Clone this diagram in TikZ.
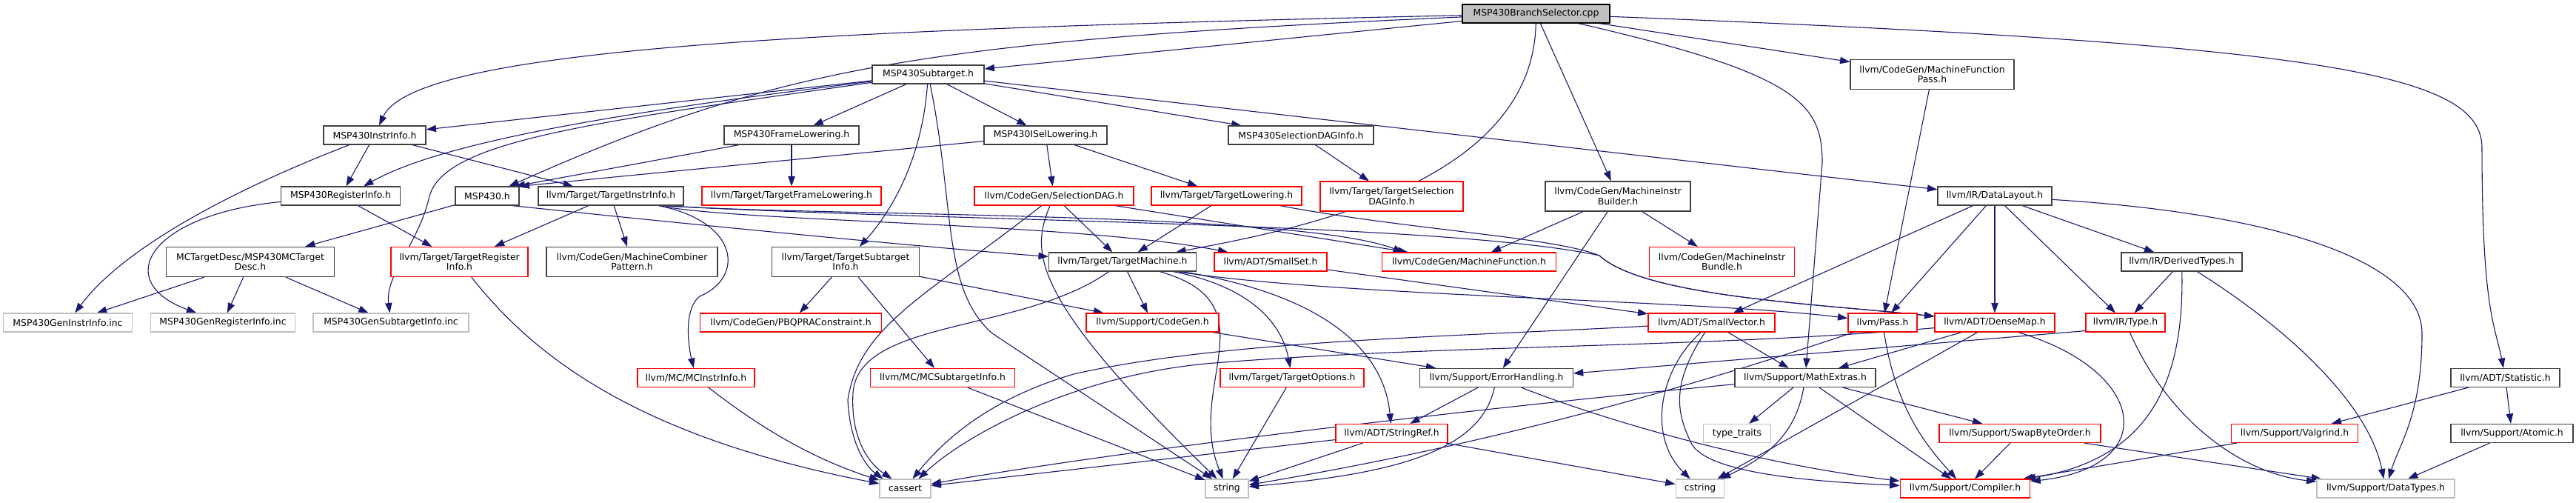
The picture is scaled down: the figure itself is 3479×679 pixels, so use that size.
\documentclass[tikz,border=0pt]{standalone}
\usepackage{fontspec}
\setmainfont{DejaVu Sans}
\usetikzlibrary{arrows.meta}
\pgfdeclarelayer{bglayer}
\pgfdeclarelayer{edgelayer}
\pgfsetlayers{bglayer,edgelayer,main}
\definecolor{edgeblue}{HTML}{191970}
\definecolor{grayline}{HTML}{BFBFBF}
\definecolor{redline}{HTML}{FF0000}
\definecolor{darkline}{HTML}{404040}
\definecolor{rootfill}{HTML}{BFBFBF}
\tikzset{
  nb/.style={draw=darkline, line width=0.6pt, fill=white, rectangle, inner sep=0pt, minimum height=12.5pt, align=center, font=\fontsize{6.2}{6.7}\selectfont},
  rb/.style={nb, draw=redline},
  gb/.style={nb, draw=grayline},
  rootb/.style={nb, draw=black, fill=rootfill},
  twol/.style={minimum height=20pt},
  dep/.style={draw=edgeblue, line width=0.55pt, -{Triangle[length=6.7pt,width=4.7pt]}},
}
\begin{document}
\begin{tikzpicture}[x=0.5pt,y=-0.5pt]
\begin{pgfonlayer}{bglayer}
\fill[white] (0,0) rectangle (3479,679);
\end{pgfonlayer}
\useasboundingbox (0,0) rectangle (3479,679);
% rank 0
\node[rootb, minimum width=99.5pt] (bs) at (2074.5,18.5) {MSP430BranchSelector.cpp};
% rank 1
\node[nb, minimum width=75.5pt] (st) at (1253.5,100.5) {MSP430Subtarget.h};
\node[nb, twol, minimum width=110.5pt] (mfp) at (2609.5,100.5) {llvm/CodeGen/MachineFunction\\Pass.h};
% rank 2
\node[nb, minimum width=69pt] (ii) at (506,182.5) {MSP430InstrInfo.h};
\node[nb, minimum width=91pt] (fl) at (1069,182.5) {MSP430FrameLowering.h};
\node[nb, minimum width=83pt] (isl) at (1412,182.5) {MSP430ISelLowering.h};
\node[nb, minimum width=98pt] (sdi) at (1757,182.5) {MSP430SelectionDAGInfo.h};
% rank 3
\node[nb, minimum width=80.5pt] (ri) at (460,264.5) {MSP430RegisterInfo.h};
\node[nb, minimum width=43pt] (m430) at (658,264.5) {MSP430.h};
\node[nb, minimum width=98pt] (tii) at (825,264.5) {llvm/Target/TargetInstrInfo.h};
\node[rb, minimum width=121pt] (tfl) at (1069,264.5) {llvm/Target/TargetFrameLowering.h};
\node[rb, minimum width=107.5pt] (sd) at (1423.5,264.5) {llvm/CodeGen/SelectionDAG.h};
\node[rb, minimum width=101.5pt] (tl) at (1656.5,264.5) {llvm/Target/TargetLowering.h};
\node[rb, twol, minimum width=96.5pt] (tsdi) at (1879.5,265) {llvm/Target/TargetSelection\\DAGInfo.h};
\node[nb, twol, minimum width=98pt] (mib) at (2185,265) {llvm/CodeGen/MachineInstr\\Builder.h};
\node[nb, minimum width=77pt] (dl) at (2694,264.5) {llvm/IR/DataLayout.h};
% rank 4
\node[nb, twol, minimum width=113.75pt] (mcd) at (338,353.5) {MCTargetDesc/MSP430MCTarget\\Desc.h};
\node[rb, twol, minimum width=92.5pt] (tri) at (620.5,353.5) {llvm/Target/TargetRegister\\Info.h};
\node[nb, twol, minimum width=115.5pt] (mcp) at (853.5,353.5) {llvm/CodeGen/MachineCombiner\\Pattern.h};
\node[nb, twol, minimum width=99.25pt] (tsi) at (1142,353.5) {llvm/Target/TargetSubtarget\\Info.h};
\node[nb, minimum width=99.5pt] (tm) at (1516,353.5) {llvm/Target/TargetMachine.h};
\node[rb, minimum width=76pt] (ss) at (1716,353.5) {llvm/ADT/SmallSet.h};
\node[rb, minimum width=117.5pt] (mf) at (1984,353.5) {llvm/CodeGen/MachineFunction.h};
\node[rb, twol, minimum width=98pt] (mibn) at (2325.5,353.5) {llvm/CodeGen/MachineInstr\\Bundle.h};
\node[nb, minimum width=81.5pt] (dt) at (2946.5,353.5) {llvm/IR/DerivedTypes.h};
% rank 5
\node[gb, minimum width=87pt] (gii) at (91.5,435.5) {MSP430GenInstrInfo.inc};
\node[gb, minimum width=97.75pt] (gri) at (301,435.5) {MSP430GenRegisterInfo.inc};
\node[gb, minimum width=105pt] (gsi) at (528,435.5) {MSP430GenSubtargetInfo.inc};
\node[rb, minimum width=122.25pt] (pbqp) at (1068,435.5) {llvm/CodeGen/PBQPRAConstraint.h};
\node[rb, minimum width=89.5pt] (cg) at (1556.5,435.5) {llvm/Support/CodeGen.h};
\node[rb, minimum width=85.5pt] (sv) at (2311.5,435.5) {llvm/ADT/SmallVector.h};
\node[rb, minimum width=46.5pt] (pass) at (2542.5,435.5) {llvm/Pass.h};
\node[rb, minimum width=81pt] (dm) at (2694,435.5) {llvm/ADT/DenseMap.h};
\node[rb, minimum width=53.5pt] (ty) at (2870.5,435.5) {llvm/IR/Type.h};
% rank 6
\node[rb, minimum width=79pt] (mci) at (940,510) {llvm/MC/MCInstrInfo.h};
\node[rb, minimum width=97.75pt] (mcs) at (1273,510) {llvm/MC/MCSubtargetInfo.h};
\node[rb, minimum width=97pt] (to) at (1745,510) {llvm/Target/TargetOptions.h};
\node[nb, minimum width=103.25pt] (eh) at (2021,510) {llvm/Support/ErrorHandling.h};
\node[nb, minimum width=95pt] (me) at (2438,510) {llvm/Support/MathExtras.h};
\node[nb, minimum width=73.5pt] (stat) at (3383.5,510) {llvm/ADT/Statistic.h};
% rank 7
\node[rb, minimum width=75.5pt] (sr) at (1879.5,585) {llvm/ADT/StringRef.h};
\node[gb, minimum width=45.25pt] (tt) at (2346,585) {type\_traits};
\node[rb, minimum width=109pt] (sbo) at (2728,585) {llvm/Support/SwapByteOrder.h};
\node[rb, minimum width=85.25pt] (vg) at (3099,585) {llvm/Support/Valgrind.h};
\node[nb, minimum width=82.5pt] (at) at (3392.5,585) {llvm/Support/Atomic.h};
% rank 8
\node[gb, minimum width=34.5pt] (ca) at (1222.5,659.5) {cassert};
\node[gb, minimum width=29pt] (str) at (1657,659.5) {string};
\node[gb, minimum width=32.8pt] (cs) at (2296,659.5) {cstring};
\node[rb, minimum width=87.75pt] (cp) at (2654,659.5) {llvm/Support/Compiler.h};
\node[gb, minimum width=93pt] (dty) at (3222,659.5) {llvm/Support/DataTypes.h};

\begin{pgfonlayer}{edgelayer}
% root
\draw[dep] (bs) .. controls (1100,40) and (560,65) .. (ii);
\draw[dep] (bs) .. controls (1250,55) and (1050,90) .. (m430);
\draw[dep] (bs) -- (st);
\draw[dep] (bs) .. controls (2070,250) and (1750,310) .. ([xshift=-14pt]tm.north east);
\draw[dep] (bs) -- (mib);
\draw[dep] (bs) -- (mfp);
\draw[dep] (bs) .. controls (2430,100) and (2461,140) .. (2461,220) -- (me);
\draw[dep] (bs) .. controls (3150,60) and (3352,100) .. (3352,200) .. controls (3352,420) and (3370,440) .. (stat);
% subtarget
\draw[dep] (st) -- (ii);
\draw[dep] (st) .. controls (850,150) and (600,190) .. ([xshift=15.5pt]ri.north);
\draw[dep] (st) .. controls (800,165) and (600,190) .. (580,265) .. controls (565,330) and (520,370) .. (gsi);
\draw[dep] (st) -- (fl);
\draw[dep] (st) -- (isl);
\draw[dep] (st) -- (sdi);
\draw[dep] (st) -- (dl);
\draw[dep] (st) .. controls (1245,220) and (1200,290) .. (tsi);
\draw[dep] (st) .. controls (1290,280) and (1272,390) .. (1340,450) -- (str);
% instrinfo
\draw[dep] (ii) -- (ri);
\draw[dep] (ii) .. controls (330,250) and (170,330) .. (gii);
\draw[dep] (ii) -- (tii);
% registerinfo
\draw[dep] (ri) .. controls (200,290) and (150,380) .. (gri);
\draw[dep] (ri) -- (tri);
% MSP430.h
\draw[dep] (m430) -- (mcd);
\draw[dep] ([xshift=-5pt]m430.south east) .. controls (1000,310) and (1300,338) .. (tm);
% frame lowering / isel
\draw[dep] (fl) -- ([xshift=-3pt]m430.north east);
\draw[dep] (fl) -- (tfl);
\draw[dep] (isl) -- (m430.north east);
\draw[dep] (isl) -- (sd);
\draw[dep] (isl) -- (tl);
\draw[dep] (sdi) -- (tsdi);
% MCTargetDesc
\draw[dep] (mcd) -- (gii);
\draw[dep] (mcd) -- (gri);
\draw[dep] (mcd) -- (gsi);
% TargetInstrInfo
\draw[dep] (tii) -- (tri);
\draw[dep] (tii) -- (mcp);
\draw[dep] (tii) .. controls (1000,300) and (1005,375) .. (945,400) .. controls (925,415) and (928,460) .. (mci);
\draw[dep] ([xshift=-17pt]tii.south east) .. controls (1000,300) and (1450,300) .. ([xshift=9.5pt]ss.north west);
\draw[dep] ([xshift=-14pt]tii.south east) .. controls (1100,292) and (1750,285) .. ([xshift=-44.5pt]mf.north);
\draw[dep] ([xshift=-15pt]tii.south east) .. controls (1300,300) and (1950,300) .. (2160,345) .. controls (2220,400) and (2450,410) .. (dm);
% TargetRegisterInfo
\draw[dep] (tri) .. controls (720,480) and (860,590) .. (ca);
% SelectionDAG
\draw[dep] (sd) -- (tm);
\draw[dep] (sd) -- (mf);
\draw[dep] (sd) .. controls (1250,400) and (1160,440) .. (1145,540) .. controls (1148,600) and (1170,630) .. ([xshift=-15pt]ca.north);
\draw[dep] (sd) .. controls (1392,340) and (1390,400) .. (str);
% TargetMachine
\draw[dep] (tm) -- (cg);
\draw[dep] ([xshift=-25pt]tm.south east) .. controls (1720,410) and (1600,520) .. (str);
\draw[dep] (tm) .. controls (1680,385) and (1730,430) .. (to);
\draw[dep] (tm) .. controls (1800,400) and (1870,480) .. (sr);
\draw[dep] ([xshift=-13pt]tm.south east) .. controls (1800,400) and (2300,405) .. (pass);
\draw[dep] (tm) .. controls (1380,450) and (1160,430) .. (1152,530) .. controls (1148,600) and (1180,630) .. ([xshift=-9pt]ca.north);
% TargetSubtargetInfo
\draw[dep] (tsi) -- (pbqp);
\draw[dep] (tsi) -- (mcs);
\draw[dep] (tsi) -- (cg);
% misc rank 4/5
\draw[dep] (ss) -- (sv);
\draw[dep] (cg) -- (eh);
% MachineInstrBuilder
\draw[dep] (mib) -- (mf);
\draw[dep] (mib) -- (mibn);
\draw[dep] (mib) -- (eh);
% TargetLowering
\draw[dep] (tl) -- (tm);
\draw[dep] ([xshift=-15pt]tl.south east) .. controls (1900,310) and (2100,320) .. (2160,345) .. controls (2220,400) and (2450,410) .. (dm);
% DataLayout
\draw[dep] (dl) -- (sv);
\draw[dep] (dl) -- (pass);
\draw[dep] (dl) -- (dm);
\draw[dep] (dl) -- (ty);
\draw[dep] (dl) -- (dt);
\draw[dep] (dl) .. controls (3100,290) and (3271,360) .. (3271,450) .. controls (3271,560) and (3240,600) .. (dty);
% DerivedTypes
\draw[dep] (dt) -- (ty);
\draw[dep] (dt) .. controls (2950,520) and (2900,620) .. (cp);
\draw[dep] (dt) .. controls (3100,450) and (3200,550) .. (dty);
% Type
\draw[dep] ([yshift=1pt]ty.south west) -- ([yshift=3pt]eh.east);
\draw[dep] (ty) .. controls (2930,570) and (3030,640) .. (dty);
% SmallVector
\draw[dep] (sv) -- (me);
\draw[dep] (sv) .. controls (2240,500) and (2225,590) .. (cs);
\draw[dep] (sv) .. controls (2255,520) and (2265,560) .. (2285,600) .. controls (2310,640) and (2450,650) .. (cp);
\draw[dep] (sv) .. controls (1950,455) and (1650,460) .. (1450,505) .. controls (1330,540) and (1270,600) .. ([xshift=5pt]ca.north);
% DenseMap
\draw[dep] (dm) -- (me);
\draw[dep] (dm) -- (cs);
\draw[dep] ([xshift=-25pt]dm.south east) .. controls (2900,500) and (2920,630) .. (cp);
\draw[dep] (dm) .. controls (2300,470) and (1950,465) .. (1640,490) .. controls (1450,505) and (1300,590) .. ([xshift=9pt]ca.north);
% MathExtras
\draw[dep] (me) -- (tt);
\draw[dep] (me) .. controls (2425,590) and (2380,620) .. (cs);
\draw[dep] (me) -- (cp);
\draw[dep] (me) -- (sbo);
\draw[dep] (me) .. controls (2000,550) and (1500,610) .. (ca);
% ErrorHandling
\draw[dep] (eh) -- (sr);
\draw[dep] (eh) .. controls (2000,610) and (1880,640) .. (str);
\draw[dep] (eh) .. controls (2200,580) and (2400,630) .. (cp);
% Pass
\draw[dep] (pass) .. controls (2560,550) and (2600,600) .. (cp);
\draw[dep] (pass) .. controls (2200,550) and (1950,610) .. (str);
% StringRef
\draw[dep] (sr) -- (ca);
\draw[dep] (sr) -- (str);
\draw[dep] (sr) -- (cs);
% SwapByteOrder, Valgrind, Statistic, Atomic
\draw[dep] (sbo) -- (cp);
\draw[dep] (sbo) -- (dty);
\draw[dep] (vg) -- (cp);
\draw[dep] (stat) -- (vg);
\draw[dep] (stat) -- (at);
\draw[dep] (at) -- (dty);
% MachineFunctionPass
\draw[dep] (mfp) -- (pass);
% MC
\draw[dep] (mci) .. controls (1030,580) and (1100,620) .. (ca);
\draw[dep] (mcs) -- (str);
\draw[dep] (to) -- (str);
\end{pgfonlayer}
\end{tikzpicture}
\end{document}
